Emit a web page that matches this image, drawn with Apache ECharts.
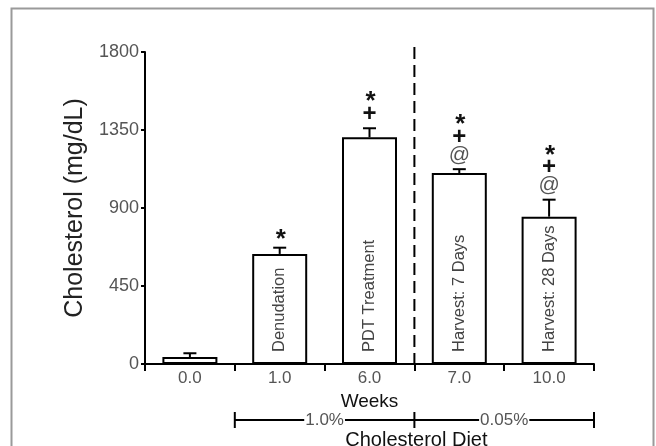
<!DOCTYPE html>
<html><head><meta charset="utf-8">
<script src="https://cdn.jsdelivr.net/npm/echarts@6/dist/echarts.min.js"></script>
<style>html,body{margin:0;padding:0;background:#fff}#c{width:656px;height:446px}</style>
</head><body><div id="c"></div>
<script>
const categories = ['0.0', '1.0', '6.0', '7.0', '10.0'];
const means = [40, 635, 1308, 1102, 850];
const errors = [22, 36, 52, 22, 98];
const barLabels = ['', 'Denudation', 'PDT Treatment', 'Harvest: 7 Days', 'Harvest: 28 Days'];
const sigMarks = [[], ['*'], ['+', '*'], ['@', '+', '*'], ['@', '+', '*']];
const yMin = 0, yMax = 1800, yStep = 450;
const dietGroups = [{ label: '1.0%', from: 1, to: 2 }, { label: '0.05%', from: 3, to: 4 }];
const dietTitle = 'Cholesterol Diet';
const dividerAfter = 2;

const FONT = 'Liberation Sans, Arial, sans-serif';
const chart = echarts.init(document.getElementById('c'), null, { renderer: 'canvas' });

const markStyle = {
  '*': { fontSize: 26, fontWeight: 'bold', fill: '#111', dy: 6 },
  '+': { fontSize: 24, fontWeight: 'bold', fill: '#111', dy: 0 },
  '@': { fontSize: 21, fontWeight: 'normal', fill: '#555', dy: 0 }
};

chart.setOption({
  animation: false,
  backgroundColor: '#fff',
  textStyle: { fontFamily: FONT },
  grid: { left: 145, right: 62, top: 52, bottom: 82, containLabel: false, outerBoundsMode: 'none' },
  xAxis: {
    type: 'category', data: categories,
    name: 'Weeks', nameLocation: 'middle', nameGap: 17,
    nameTextStyle: { fontSize: 19, color: '#111', fontFamily: FONT },
    axisLine: { lineStyle: { color: '#000', width: 2 } },
    axisTick: { show: true, length: 7, lineStyle: { color: '#000', width: 2 } },
    axisLabel: { fontSize: 17, color: '#555', margin: 6, fontFamily: FONT },
    splitLine: { show: false }
  },
  yAxis: {
    type: 'value', min: yMin, max: yMax, interval: yStep,
    name: 'Cholesterol (mg/dL)', nameLocation: 'middle', nameGap: 41, nameRotate: 90,
    nameTextStyle: { fontSize: 25, color: '#222', fontFamily: FONT },
    axisLine: { show: true, lineStyle: { color: '#000', width: 2 } },
    axisTick: { show: true, length: 4, lineStyle: { color: '#000', width: 2 } },
    axisLabel: { fontSize: 18, color: '#555', margin: 6, fontFamily: FONT, formatter: v => String(v) },
    splitLine: { show: false }
  },
  series: [
    {
      type: 'bar', data: means, barWidth: 55, z: 2,
      itemStyle: { color: '#fff', borderColor: '#000', borderWidth: 2 },
      label: {
        show: true, position: 'insideBottom', rotate: 90, distance: 12,
        align: 'left', verticalAlign: 'middle',
        formatter: p => barLabels[p.dataIndex],
        fontSize: 16.5, color: '#444', fontFamily: FONT
      }
    },
    {
      type: 'custom', z: 3,
      data: means.map((m, i) => [i, m, errors[i]]),
      renderItem: (params, api) => {
        const i = api.value(0);
        const base = api.coord([i, api.value(1)]);
        const top = api.coord([i, api.value(1) + api.value(2)]);
        const children = [
          { type: 'line', shape: { x1: base[0], y1: base[1], x2: top[0], y2: top[1] }, style: { stroke: '#000', lineWidth: 2 } },
          { type: 'line', shape: { x1: top[0] - 6.5, y1: top[1], x2: top[0] + 6.5, y2: top[1] }, style: { stroke: '#000', lineWidth: 2 } }
        ];
        sigMarks[params.dataIndex].forEach((s, k) => {
          const st = markStyle[s];
          children.push({
            type: 'text',
            style: {
              text: s, x: top[0] + (s === '*' ? 1 : 0), y: top[1] - 14 - k * 18 + st.dy,
              align: 'center', verticalAlign: 'middle',
              fontSize: st.fontSize, fontWeight: st.fontWeight, fill: st.fill, fontFamily: FONT
            }
          });
        });
        return { type: 'group', children };
      }
    }
  ]
});

function drawExtras() {
  const px = i => chart.convertToPixel({ xAxisIndex: 0 }, i);
  const band = px(1) - px(0);
  const boundary = i => px(i) - band / 2;
  const y0 = chart.convertToPixel({ yAxisIndex: 0 }, yMin);
  const yTop = chart.convertToPixel({ yAxisIndex: 0 }, yMax);
  const divX = boundary(dividerAfter + 1);
  const g = [];
  g.push({ type: 'rect', shape: { x: 11.5, y: 8.5, width: 642, height: 460 }, style: { fill: 'none', stroke: '#9a9a9a', lineWidth: 2 }, silent: true });
  g.push({ type: 'line', shape: { x1: divX, y1: yTop - 5, x2: divX, y2: y0 }, style: { stroke: '#000', lineWidth: 2, lineDash: [12, 6] } });
  const by = y0 + 56;
  const left = boundary(dietGroups[0].from);
  const right = boundary(dietGroups[dietGroups.length - 1].to + 1);
  g.push({ type: 'line', shape: { x1: left, y1: by, x2: right, y2: by }, style: { stroke: '#000', lineWidth: 2 } });
  [left, divX, right].forEach(x => {
    g.push({ type: 'line', shape: { x1: x, y1: by - 8, x2: x, y2: by + 8 }, style: { stroke: '#000', lineWidth: 2 } });
  });
  dietGroups.forEach(d => {
    const cx = (boundary(d.from) + boundary(d.to + 1)) / 2;
    g.push({ type: 'text', z: 10, style: { text: d.label, x: cx, y: by, align: 'center', verticalAlign: 'middle', fontSize: 17, fill: '#555', fontFamily: FONT, backgroundColor: '#fff', padding: [0, 1] } });
  });
  g.push({ type: 'text', style: { text: dietTitle, x: divX + 2, y: by + 20, align: 'center', verticalAlign: 'middle', fontSize: 20, fill: '#111', fontFamily: FONT } });
  chart.setOption({ graphic: g });
}
drawExtras();
</script>
</body></html>
